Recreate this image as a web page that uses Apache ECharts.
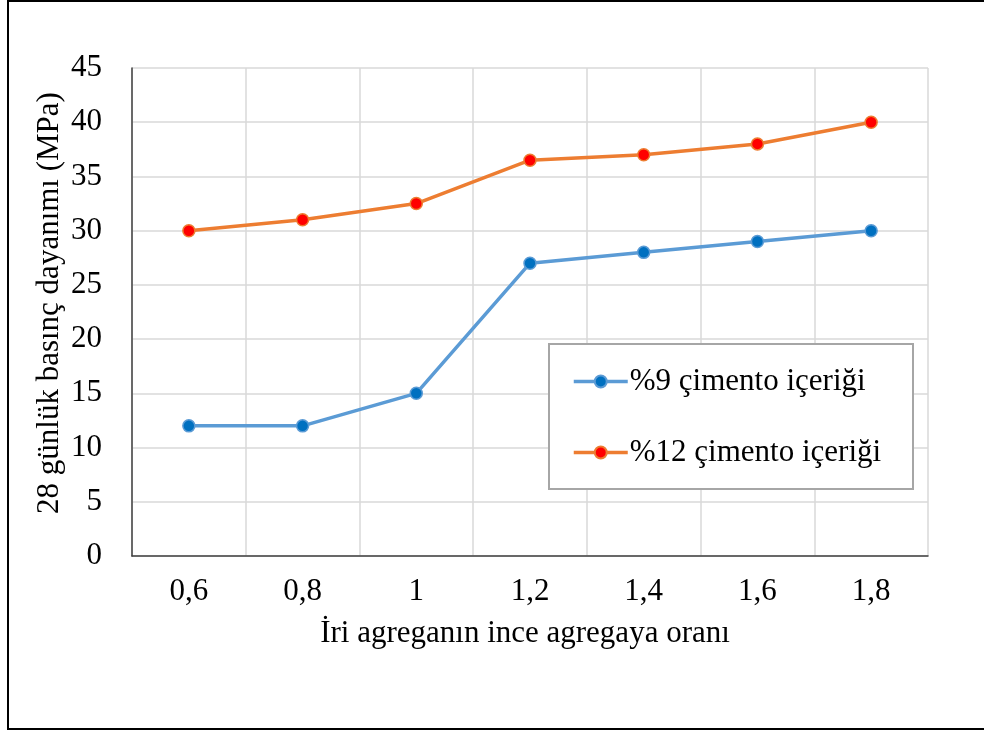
<!DOCTYPE html>
<html>
<head>
<meta charset="utf-8">
<script src="https://cdn.jsdelivr.net/npm/echarts@6/dist/echarts.min.js"></script>
<style>
  html, body { margin: 0; padding: 0; background: #fff; }
  #chart { width: 984px; height: 731px; }
</style>
</head>
<body>
<div id="chart"></div>
<script>
// Coarse-to-fine aggregate ratio and 28-day compressive strength
const categories = ['0,6', '0,8', '1', '1,2', '1,4', '1,6', '1,8'];
const cement9 = [12, 12, 15, 27, 28, 29, 30];
const cement12 = [30, 31, 32.5, 36.5, 37, 38, 40];
const seriesNames = ['%9 çimento içeriği', '%12 çimento içeriği'];
const yTitle = '28 günlük basınç dayanımı (MPa)';
const xTitle = 'İri agreganın ince agregaya oranı';

const FONT = '"Liberation Serif", "Times New Roman", serif';
const FS = 31;

const chart = echarts.init(document.getElementById('chart'), null, { renderer: 'canvas' });

chart.setOption({
  backgroundColor: '#ffffff',
  animation: false,
  grid: { left: 132, right: 56, top: 68, bottom: 175, containLabel: false },
  xAxis: {
    type: 'category',
    data: categories,
    boundaryGap: true,
    axisLine: { show: true, lineStyle: { color: '#404040', width: 1.5 } },
    axisTick: { show: false },
    axisLabel: { color: '#000', fontFamily: FONT, fontSize: FS, margin: 20 },
    splitLine: { show: true, lineStyle: { color: '#d9d9d9', width: 1.5 } },
    name: xTitle,
    nameLocation: 'middle',
    nameGap: 62,
    nameTextStyle: { color: '#000', fontFamily: FONT, fontSize: FS, padding: [0, 10, 0, 0] }
  },
  yAxis: {
    type: 'value',
    min: 0,
    max: 45,
    interval: 5,
    axisLine: { show: true, lineStyle: { color: '#404040', width: 1.5 } },
    axisTick: { show: false },
    axisLabel: { color: '#000', fontFamily: FONT, fontSize: FS, margin: 30 },
    splitLine: { show: true, lineStyle: { color: '#d9d9d9', width: 1.5 } }
  },
  legend: {
    orient: 'vertical',
    left: 572,
    top: 366,
    padding: 0,
    itemWidth: 54,
    itemHeight: 15,
    itemGap: 40,
    lineStyle: { width: 3.5 },
    textStyle: { color: '#000', fontFamily: FONT, fontSize: FS, lineHeight: 31, padding: [0, 0, 0, -3] },
    data: seriesNames
  },
  series: [
    {
      name: seriesNames[0],
      type: 'line',
      data: cement9,
      symbol: 'circle',
      symbolSize: 12,
      lineStyle: { color: '#5b9bd5', width: 3.5 },
      itemStyle: { color: '#0070c0', borderColor: '#5b9bd5', borderWidth: 1.5 },
      z: 3
    },
    {
      name: seriesNames[1],
      type: 'line',
      data: cement12,
      symbol: 'circle',
      symbolSize: 12,
      lineStyle: { color: '#ed7d31', width: 3.5 },
      itemStyle: { color: '#ff0000', borderColor: '#ed7d31', borderWidth: 1.5 },
      z: 3
    }
  ],
  graphic: [
    {
      type: 'rect',
      left: 548, top: 343,
      shape: { width: 364, height: 145 },
      style: { fill: '#ffffff', stroke: '#a6a6a6', lineWidth: 2 },
      z: 1
    },
    {
      type: 'text',
      x: 50, y: 303,
      rotation: Math.PI / 2,
      style: {
        text: yTitle,
        fill: '#000',
        font: FS + 'px ' + FONT,
        textAlign: 'center',
        textVerticalAlign: 'middle'
      }
    },
    {
      type: 'rect',
      shape: { x: 8, y: 1, width: 1000, height: 728 },
      style: { fill: 'none', stroke: '#000', lineWidth: 2 },
      silent: true
    }
  ]
});
</script>
</body>
</html>
